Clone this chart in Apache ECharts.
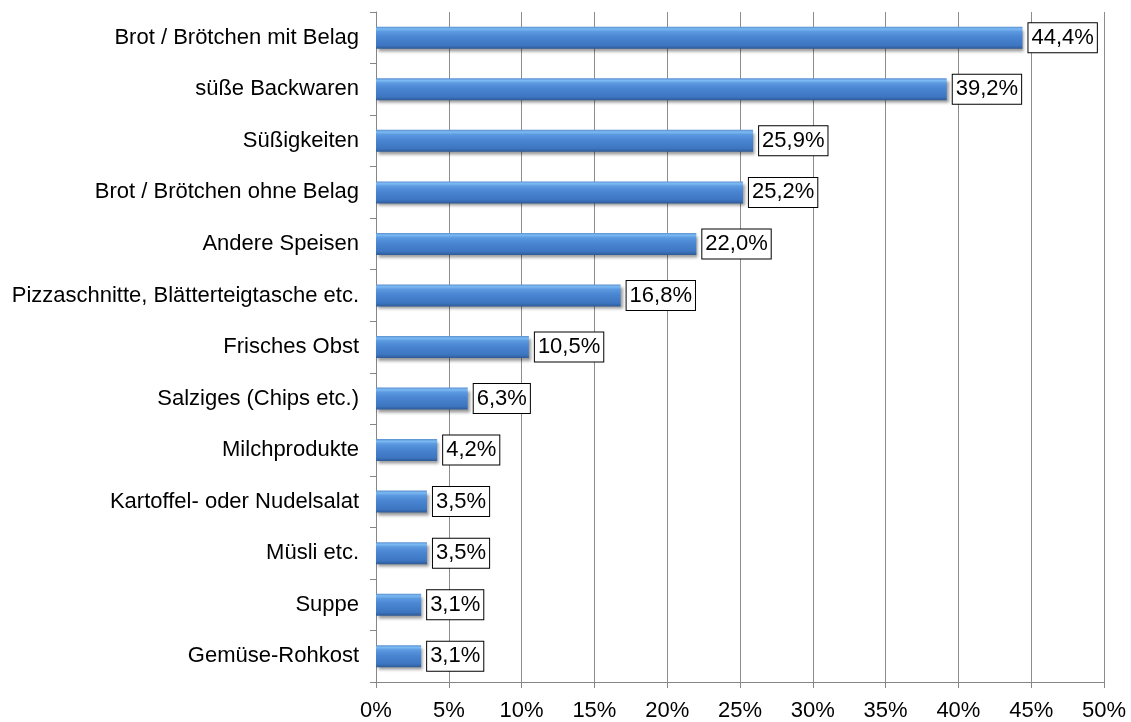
<!DOCTYPE html>
<html><head><meta charset="utf-8">
<script src="https://cdn.jsdelivr.net/npm/echarts@6/dist/echarts.min.js"></script>
<style>html,body{margin:0;padding:0;background:#fff}#c{width:1131px;height:722px}</style>
</head><body><div id="c"></div>
<script>
var categories = ["Brot / Brötchen mit Belag","süße Backwaren","Süßigkeiten","Brot / Brötchen ohne Belag","Andere Speisen","Pizzaschnitte, Blätterteigtasche etc.","Frisches Obst","Salziges (Chips etc.)","Milchprodukte","Kartoffel- oder Nudelsalat","Müsli etc.","Suppe","Gemüse-Rohkost"];
var values = [44.4,39.2,25.9,25.2,22.0,16.8,10.5,6.3,4.2,3.5,3.5,3.1,3.1];
var xTicks = [0,5,10,15,20,25,30,35,40,45,50];

var chart = echarts.init(document.getElementById('c'));
var font = 'Liberation Sans, Arial, sans-serif';
chart.setOption({
  animation:false,
  grid:{left:376,right:27,top:12,bottom:38,containLabel:false},
  xAxis:{type:'value',min:xTicks[0],max:xTicks[xTicks.length-1],interval:5,
    axisLine:{show:true,lineStyle:{color:'#868686'}},
    axisTick:{show:true,length:6,lineStyle:{color:'#868686'}},
    splitLine:{show:true,lineStyle:{color:'#8c8c8c',width:1}},
    axisLabel:{formatter:function(v){return v+'%';},color:'#000',fontSize:22,fontFamily:font,margin:18}
  },
  yAxis:{type:'category',data:categories,inverse:true,
    axisLine:{show:true,lineStyle:{color:'#868686'}},
    axisTick:{show:true,length:6,lineStyle:{color:'#868686'}},
    axisLabel:{color:'#000',fontSize:22,fontFamily:font,margin:17}
  },
  series:[{type:'bar',data:values,barWidth:22,
    itemStyle:{
      color:new echarts.graphic.LinearGradient(0,0,0,1,[
        {offset:0,color:'#5a8fd0'},{offset:0.1,color:'#7cbaf3'},{offset:0.22,color:'#5b99e0'},
        {offset:0.45,color:'#4a86d2'},{offset:0.85,color:'#3d75c0'},{offset:1,color:'#2e5a96'}]),
      shadowColor:'rgba(0,0,0,0.4)',shadowBlur:3,shadowOffsetX:2,shadowOffsetY:3
    },
    label:{show:true,position:'right',distance:6,
      formatter:function(p){return p.value.toFixed(1).replace('.',',')+'%';},
      color:'#000',fontSize:22,fontFamily:font,
      backgroundColor:'#fff',borderColor:'#000',borderWidth:1,padding:[4,3,3,3]}
  }]
});
</script></body></html>
